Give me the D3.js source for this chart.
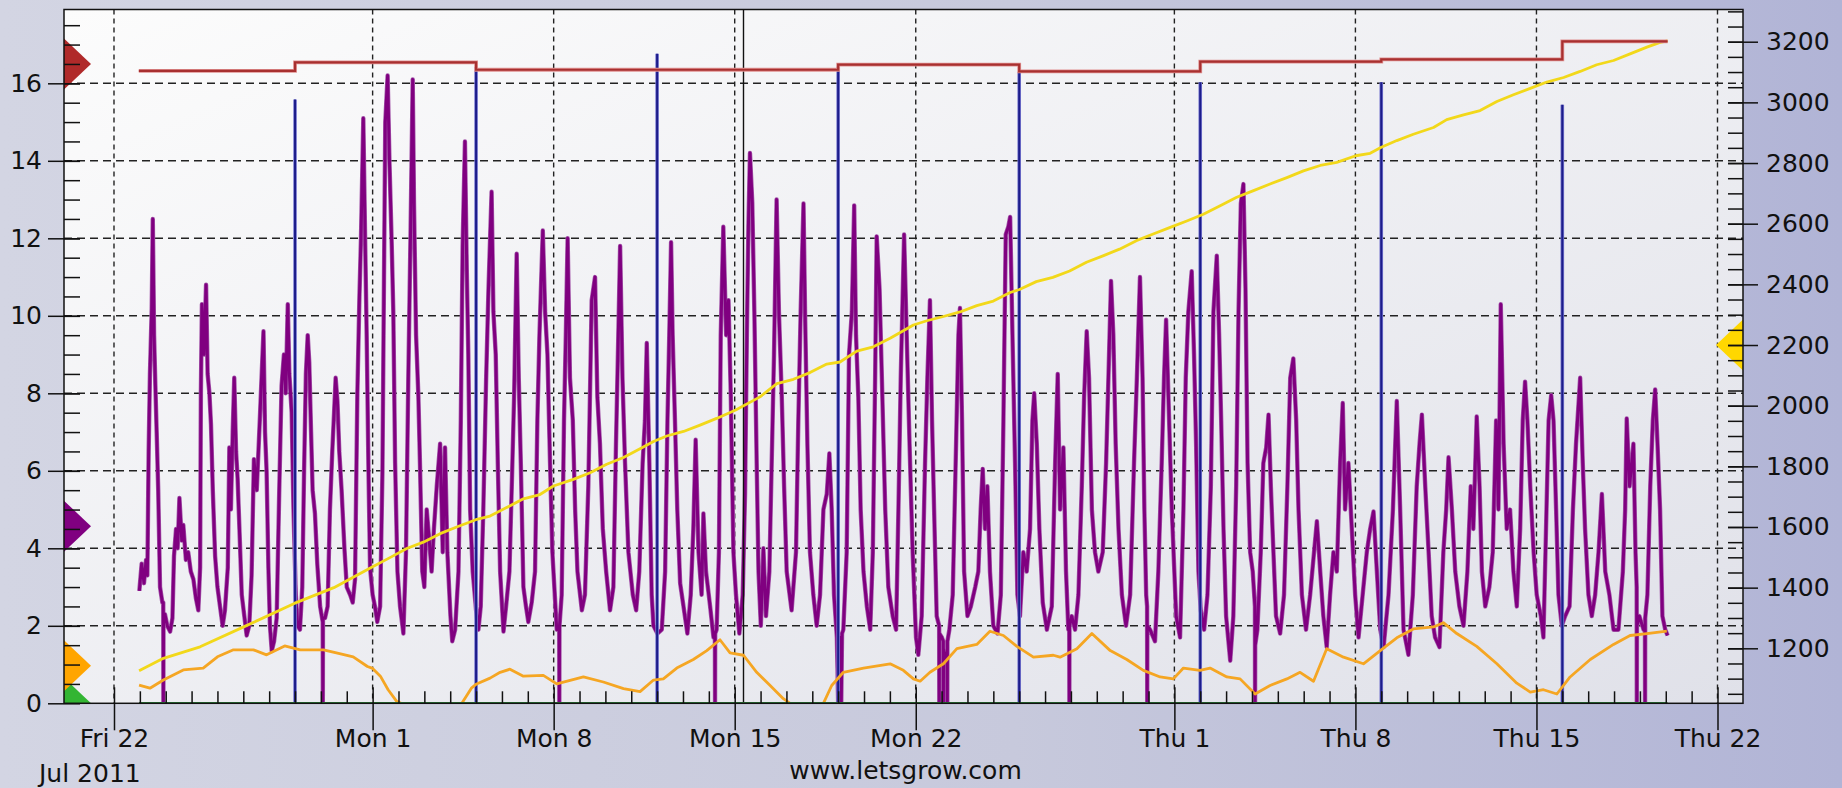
<!DOCTYPE html>
<html>
<head>
<meta charset="utf-8">
<script src="https://cdn.jsdelivr.net/npm/d3@7"></script>
<style>
  html, body { margin: 0; padding: 0; }
  body { width: 1842px; height: 788px; overflow: hidden; }
</style>
</head>
<body>
<script>
// time is kept as days since Fri 22 Jul 2011 00:00
const origin = new Date(2011, 6, 22);
const toDate = (t) => new Date(origin.getTime() + t * 864e5);

// x axis
const xDomainDays = [-1.933, 62.986];
const majorTickDays = [0, 10, 17, 24, 31, 41, 48, 55, 62];
const minorTickDays = d3.range(1, 62);
const cursorDay = 24.34;

// left axis (purple, red, orange, green, blue)
const leftDomain = [0, 17.905];
const leftTicks = [0, 2, 4, 6, 8, 10, 12, 14, 16];
const leftMinorTicks = d3.range(0.5, 18, 0.5);
const gridValues = [2, 4, 6, 8, 10, 12, 14, 16];

// right axis (yellow)
const rightDomain = [1018.7, 3306.2];
const rightTicks = [1200, 1400, 1600, 1800, 2000, 2200, 2400, 2600, 2800, 3000, 3200];
const rightMinorTicks = d3.range(1050, 3301, 50);

// purple series [day, value]
const purple = [
  [0.98,2.9],[1.07,3.6],[1.16,3.1],[1.24,3.7],[1.29,3.3],[1.34,6.5],[1.39,8.5],[1.46,10.2],[1.50,12.5],[1.55,9.5],
  [1.60,8.2],[1.65,7.0],[1.71,5.5],[1.78,3.0],[1.87,2.6],[1.905,2.6],[1.91,0],[1.915,2.3],[1.97,2.3],[2.06,2.0],
  [2.17,1.85],[2.26,2.2],[2.32,3.8],[2.40,4.5],[2.46,4.0],[2.53,5.3],[2.62,4.2],[2.68,4.6],[2.78,3.7],[2.87,3.9],
  [2.97,3.4],[3.07,3.2],[3.17,2.7],[3.26,2.4],[3.33,3.5],[3.36,8.0],[3.40,10.3],[3.48,9.0],[3.56,10.8],[3.62,8.5],
  [3.69,8.0],[3.75,7.2],[3.82,5.5],[3.91,3.8],[4.00,3.0],[4.10,2.5],[4.20,2.0],[4.29,2.4],[4.40,3.5],[4.46,6.6],
  [4.52,5.0],[4.59,7.0],[4.65,8.4],[4.72,6.5],[4.78,5.8],[4.85,4.5],[4.94,2.8],[5.03,2.3],[5.13,1.75],[5.23,2.0],
  [5.32,3.3],[5.41,6.3],[5.52,5.5],[5.65,7.5],[5.78,9.6],[5.84,7.0],[5.90,6.0],[5.97,3.5],[6.03,2.0],[6.10,1.35],
  [6.19,1.6],[6.29,2.2],[6.39,5.5],[6.48,8.2],[6.57,9.0],[6.64,8.0],[6.72,10.3],[6.78,8.5],[6.87,7.5],[6.94,5.0],
  [7.03,2.8],[7.10,2.0],[7.19,1.9],[7.28,3.0],[7.35,6.0],[7.42,8.5],[7.49,9.5],[7.55,8.8],[7.62,7.0],[7.68,5.5],
  [7.77,4.9],[7.86,3.6],[7.97,2.5],[8.07,2.1],[8.075,0],[8.08,2.2],[8.16,2.2],[8.26,2.5],[8.35,5.0],[8.44,6.5],
  [8.51,7.5],[8.57,8.4],[8.64,7.8],[8.71,6.5],[8.80,5.5],[8.91,4.0],[9.00,3.0],[9.13,2.8],[9.23,2.6],[9.32,3.2],
  [9.41,8.0],[9.49,10.5],[9.55,12.0],[9.64,15.1],[9.71,12.0],[9.77,9.5],[9.84,6.0],[9.90,3.5],[10.00,2.8],[10.09,2.5],
  [10.18,2.1],[10.29,2.5],[10.38,6.0],[10.44,11.0],[10.49,15.0],[10.58,16.2],[10.65,14.0],[10.74,11.8],[10.80,10.1],[10.87,6.2],
  [10.96,3.4],[11.06,2.5],[11.19,1.8],[11.29,3.9],[11.38,8.4],[11.47,12.3],[11.55,16.1],[11.60,12.9],[11.68,9.5],[11.77,7.9],
  [11.83,6.2],[11.92,3.4],[12.0,3.0],[12.09,5.0],[12.19,4.2],[12.28,3.4],[12.37,4.5],[12.48,5.6],[12.61,6.7],[12.71,3.9],
  [12.80,6.6],[12.89,3.9],[13.01,2.25],[13.08,1.6],[13.19,1.9],[13.32,3.4],[13.41,7.3],[13.48,11.8],[13.57,14.5],[13.64,11.2],
  [13.70,9.0],[13.77,5.0],[13.87,3.4],[14.0,2.4],[14.09,1.9],[14.18,2.5],[14.28,5.0],[14.39,8.4],[14.48,10.7],[14.60,13.2],
  [14.67,10.1],[14.76,9.0],[14.84,6.2],[14.93,3.4],[15.06,1.85],[15.16,2.5],[15.29,3.4],[15.38,5.6],[15.47,7.9],[15.57,11.6],
  [15.65,8.4],[15.73,6.2],[15.83,3.0],[15.93,2.5],[16.02,2.1],[16.15,2.6],[16.28,3.4],[16.37,7.3],[16.45,9.5],[16.58,12.2],
  [16.67,10.1],[16.76,9.0],[16.86,6.2],[16.95,3.9],[17.12,1.9],[17.215,2.0],[17.22,0],[17.225,2.0],[17.31,2.8],[17.40,7.3],
  [17.47,9.5],[17.54,12.0],[17.63,8.4],[17.74,7.3],[17.83,5.0],[17.92,3.4],[18.09,2.4],[18.21,2.8],[18.34,5.6],[18.47,10.4],
  [18.60,11.0],[18.69,7.9],[18.79,6.7],[18.90,4.5],[19.03,3.4],[19.18,2.4],[19.31,3.0],[19.41,6.7],[19.50,9.5],[19.57,11.8],
  [19.66,8.4],[19.76,6.2],[19.89,3.9],[20.06,2.8],[20.19,2.4],[20.31,3.4],[20.44,6.2],[20.53,7.3],[20.60,9.3],[20.70,6.2],
  [20.79,2.8],[20.86,2.0],[21.01,1.8],[21.18,1.9],[21.31,3.4],[21.40,7.3],[21.47,9.5],[21.54,11.9],[21.60,9.5],[21.69,7.3],
  [21.78,5.0],[21.89,3.1],[22.02,2.5],[22.17,1.8],[22.30,2.8],[22.40,4.5],[22.49,6.8],[22.60,3.9],[22.72,2.8],[22.79,4.9],
  [22.89,3.4],[23.05,2.5],[23.18,1.7],[23.235,1.7],[23.24,0],[23.245,1.8],[23.30,1.9],[23.39,3.9],[23.46,9.5],[23.56,12.3],
  [23.67,9.5],[23.76,10.4],[23.85,7.9],[23.95,3.9],[24.05,2.8],[24.18,1.8],[24.31,2.8],[24.40,5.4],[24.47,9.5],[24.53,12.3],
  [24.59,14.2],[24.68,12.9],[24.76,10.1],[24.85,6.2],[24.92,3.4],[25.01,2.0],[25.11,4.0],[25.21,2.25],[25.34,3.4],[25.43,6.2],
  [25.52,9.0],[25.62,13.0],[25.71,10.1],[25.82,7.9],[25.91,5.6],[26.01,3.4],[26.20,2.4],[26.37,3.9],[26.46,7.3],[26.55,10.1],
  [26.66,12.9],[26.72,10.1],[26.81,6.7],[26.91,3.9],[27.04,2.8],[27.17,2.0],[27.30,2.8],[27.43,5.0],[27.56,5.4],[27.66,6.45],
  [27.75,5.0],[27.84,2.8],[27.95,1.7],[28.0,0],[28.03,1.6],[28.06,0],[28.09,1.7],[28.12,0],[28.15,1.8],[28.20,1.9],
  [28.33,3.9],[28.42,9.0],[28.53,10.1],[28.62,12.85],[28.69,9.5],[28.78,7.9],[28.87,5.0],[28.98,3.4],[29.11,2.5],[29.24,1.9],
  [29.34,3.9],[29.43,8.4],[29.49,12.05],[29.60,10.7],[29.69,8.4],[29.82,5.0],[29.94,3.0],[30.11,2.25],[30.24,1.9],[30.33,5.0],
  [30.42,8.4],[30.55,12.1],[30.65,9.5],[30.76,6.7],[30.88,3.9],[31.01,1.7],[31.10,1.25],[31.23,2.25],[31.36,6.2],[31.45,8.4],
  [31.55,10.4],[31.63,7.3],[31.71,5.0],[31.81,2.25],[31.905,2.0],[31.91,0],[31.915,1.8],[32.01,1.7],[32.065,1.6],[32.07,0],
  [32.075,1.4],[32.17,1.1],[32.215,1.3],[32.22,0],[32.225,1.6],[32.30,1.9],[32.43,2.8],[32.56,6.7],[32.65,9.5],[32.71,10.2],
  [32.79,7.3],[32.87,3.4],[33.0,2.25],[33.13,2.5],[33.30,3.0],[33.42,3.4],[33.51,5.0],[33.59,6.05],[33.68,4.5],[33.77,5.6],
  [33.87,3.4],[34.0,2.0],[34.16,1.8],[34.29,2.8],[34.39,7.3],[34.48,12.1],[34.58,12.3],[34.65,12.55],[34.74,9.5],[34.84,6.2],
  [34.93,2.8],[35.03,2.25],[35.16,3.9],[35.29,3.4],[35.42,4.5],[35.51,7.3],[35.58,8.0],[35.68,6.7],[35.78,4.5],[35.91,2.6],
  [36.07,1.9],[36.26,2.5],[36.39,6.2],[36.49,8.5],[36.58,5.0],[36.71,6.6],[36.81,3.4],[36.90,1.9],[36.935,1.9],[36.94,0],
  [36.945,2.0],[37.03,2.25],[37.16,1.9],[37.29,2.8],[37.42,5.6],[37.51,7.9],[37.61,9.6],[37.70,8.4],[37.81,5.0],[37.93,3.9],
  [38.06,3.4],[38.23,3.9],[38.36,6.2],[38.45,8.4],[38.55,10.9],[38.64,9.5],[38.73,6.7],[38.84,4.5],[38.97,2.8],[39.13,2.0],
  [39.29,2.8],[39.44,6.2],[39.55,8.4],[39.67,11.0],[39.77,8.4],[39.84,5.0],[39.91,2.8],[39.945,2.5],[39.95,0],[39.955,2.0],
  [40.06,1.9],[40.25,1.6],[40.38,3.4],[40.51,6.2],[40.60,8.4],[40.68,9.9],[40.77,7.9],[40.90,5.0],[41.07,2.25],[41.22,1.7],
  [41.35,5.0],[41.44,8.4],[41.54,10.1],[41.67,11.15],[41.76,9.0],[41.84,6.7],[41.93,3.4],[42.02,2.4],[42.15,1.9],[42.28,2.8],
  [42.41,5.6],[42.51,10.1],[42.64,11.55],[42.73,9.5],[42.81,7.3],[42.90,4.5],[43.0,2.25],[43.16,1.1],[43.28,2.25],[43.39,5.6],
  [43.48,10.1],[43.57,12.9],[43.67,13.4],[43.75,10.7],[43.83,6.2],[43.93,3.9],[44.03,3.4],[44.115,2.5],[44.12,0],[44.125,1.5],
  [44.21,1.9],[44.34,3.9],[44.44,6.2],[44.55,6.6],[44.64,7.45],[44.73,5.6],[44.83,3.9],[44.93,2.25],[45.09,1.8],[45.24,2.8],
  [45.37,5.6],[45.48,8.4],[45.60,8.9],[45.71,7.3],[45.80,5.0],[45.93,2.8],[46.09,1.9],[46.25,2.8],[46.40,3.9],[46.51,4.7],
  [46.64,3.4],[46.76,2.25],[46.89,1.45],[47.02,2.8],[47.15,3.9],[47.28,3.4],[47.41,6.2],[47.51,7.75],[47.60,5.0],[47.73,6.2],
  [47.86,4.5],[47.99,2.8],[48.12,1.7],[48.28,2.8],[48.44,3.9],[48.57,4.5],[48.70,4.95],[48.83,3.4],[48.96,1.9],[49.09,1.45],
  [49.28,2.8],[49.45,5.0],[49.60,7.8],[49.73,5.0],[49.86,1.9],[50.05,1.25],[50.22,2.8],[50.37,5.6],[50.48,6.7],[50.57,7.45],
  [50.70,5.6],[50.83,3.9],[50.95,2.25],[51.08,1.7],[51.25,1.45],[51.40,3.9],[51.51,5.0],[51.60,6.35],[51.73,5.0],[51.86,3.4],
  [52.02,2.5],[52.18,2.0],[52.33,3.4],[52.46,5.6],[52.56,4.5],[52.69,7.4],[52.80,5.6],[52.89,3.4],[53.02,2.5],[53.18,3.0],
  [53.31,3.9],[53.44,7.3],[53.53,5.0],[53.62,10.3],[53.73,6.7],[53.85,4.5],[53.98,5.0],[54.11,3.4],[54.24,2.5],[54.37,4.5],
  [54.47,7.3],[54.56,8.3],[54.65,7.3],[54.76,5.6],[54.89,3.9],[55.01,2.8],[55.17,2.25],[55.27,1.7],[55.37,4.5],[55.47,7.3],
  [55.57,7.95],[55.66,7.3],[55.76,5.0],[55.85,2.8],[55.98,2.0],[56.11,2.25],[56.28,2.5],[56.41,5.0],[56.53,6.7],[56.69,8.4],
  [56.79,6.2],[56.88,4.5],[57.01,2.8],[57.14,2.25],[57.27,2.8],[57.40,3.9],[57.53,5.4],[57.66,3.4],[57.82,2.8],[57.98,1.9],
  [58.17,1.9],[58.34,3.4],[58.43,5.0],[58.49,7.35],[58.60,5.6],[58.75,6.7],[58.83,3.9],[58.875,3.0],[58.88,0],[58.885,2.0],
  [58.98,2.25],[59.14,1.9],[59.195,2.0],[59.20,0],[59.205,2.2],[59.29,2.8],[59.40,5.6],[59.50,7.3],[59.59,8.1],[59.68,6.7],
  [59.78,5.0],[59.87,2.25],[59.98,1.9],[60.07,1.75]
];

// orange series [day, value]
const orange = [
  [0.97,0.47],[1.39,0.39],[1.91,0.6],[2.68,0.86],[3.45,0.91],[4.0,1.2],[4.62,1.38],[5.39,1.38],[5.9,1.25],[6.6,1.48],
  [7.2,1.38],[8.1,1.38],[8.6,1.3],[9.25,1.2],[9.8,0.95],[10.0,0.9],[10.3,0.7],[10.6,0.35],[10.93,0.05],[11.1,0],
  [13.45,0],[13.83,0.4],[14.02,0.5],[14.54,0.65],[14.93,0.8],[15.31,0.88],[15.83,0.7],[16.6,0.72],[17.12,0.5],[18.15,0.68],
  [18.92,0.55],[19.7,0.38],[20.34,0.3],[20.86,0.6],[21.24,0.63],[21.76,0.91],[22.4,1.13],[22.92,1.36],[23.43,1.64],[23.82,1.3],
  [24.34,1.24],[24.85,0.8],[25.37,0.46],[25.88,0.12],[26.14,0],[27.43,0],[27.75,0.46],[28.2,0.8],[28.98,0.91],[30.01,1.02],
  [30.52,0.85],[30.91,0.63],[31.17,0.57],[31.55,0.8],[32.07,1.02],[32.59,1.41],[33.36,1.52],[33.87,1.86],[34.39,1.75],[34.91,1.47],
  [35.55,1.19],[36.32,1.24],[36.58,1.19],[37.23,1.41],[37.81,1.8],[38.52,1.36],[39.16,1.13],[39.8,0.85],[40.45,0.68],[40.96,0.63],
  [41.35,0.91],[41.99,0.85],[42.38,0.91],[43.03,0.68],[43.54,0.63],[44.12,0.24],[44.7,0.46],[45.35,0.63],[45.86,0.8],[46.38,0.57],
  [46.89,1.41],[47.54,1.19],[48.31,1.02],[48.96,1.36],[49.6,1.69],[50.24,1.92],[51.02,1.97],[51.4,2.08],[51.92,1.8],[52.69,1.47],
  [53.47,1.02],[54.24,0.52],[54.76,0.29],[55.27,0.35],[55.79,0.24],[56.3,0.68],[57.08,1.13],[57.98,1.52],[58.62,1.75],[59.27,1.8],
  [60.04,1.86]
];

// yellow series [day, value on right axis]
const yellow = [
  [0.97,1126],[1.91,1167],[3.33,1205],[5.1,1274],[6.97,1348],[8.5,1400],[10.0,1469],[10.67,1499],[11.32,1529],[11.96,1550],
  [12.61,1578],[13.25,1600],[13.99,1624],[14.54,1636],[15.18,1664],[15.83,1693],[16.47,1707],[16.99,1735],[17.76,1757],[18.41,1779],
  [19.05,1807],[19.70,1829],[20.34,1858],[20.86,1882],[21.37,1900],[22.02,1915],[22.66,1936],[23.30,1958],[24.04,1986],[24.98,2029],
  [25.63,2073],[26.27,2087],[26.91,2109],[27.56,2137],[28.07,2144],[28.72,2180],[29.36,2194],[30.01,2222],[30.91,2266],[31.43,2280],
  [32.07,2294],[32.71,2309],[33.36,2330],[34.00,2345],[34.65,2373],[35.01,2383],[35.66,2409],[36.30,2423],[36.95,2444],[37.60,2473],
  [38.24,2494],[38.88,2516],[39.53,2544],[40.18,2566],[40.84,2588],[41.48,2609],[42.12,2631],[42.77,2659],[43.41,2687],[44.06,2709],
  [44.70,2731],[45.35,2752],[45.99,2774],[46.64,2792],[47.28,2802],[48.01,2824],[48.57,2832],[49.0,2852],[49.60,2874],[50.24,2895],
  [51.02,2917],[51.53,2943],[52.18,2959],[52.82,2973],[53.47,3003],[54.11,3025],[54.76,3046],[55.40,3067],[56.05,3082],[56.69,3102],
  [57.33,3124],[57.98,3138],[58.62,3160],[59.27,3182],[59.78,3198],[60.07,3203]
];

// red step series [day, value]
const red = [
  [0.96,16.32],[7.0,16.54],[14.0,16.35],[28.0,16.48],[35.0,16.31],[42.0,16.56],[49.0,16.62],[56.0,17.08],[60.07,17.08]
];

// blue weekly spikes [day, value]
const blue = [
  [7.0,15.58],[14.0,16.42],[21.0,16.76],[28.0,16.43],[35.0,16.3],[42.0,16.03],[49.0,16.03],[56.0,15.45]
];

// green series [day, value]
const green = [[0.97,0],[60.07,0]];

// side markers
const leftMarkers = [
  { color: '#b02a2a', value: 16.5 },
  { color: '#800080', value: 4.57 },
  { color: '#33b533', value: 0 },
  { color: '#ffa500', value: 0.97 }
];
const rightMarkers = [{ color: '#ffd700', value: 2200 }];

const W = 1842, H = 788;
const margin = { top: 9.5, right: 99, bottom: 84.7, left: 64 };
const plotW = W - margin.left - margin.right;
const plotH = H - margin.top - margin.bottom;
const plotBottom = margin.top + plotH;
const font = '"DejaVu Sans", Verdana, sans-serif';

const x = d3.scaleTime()
  .domain(xDomainDays.map(toDate))
  .range([margin.left, margin.left + plotW]);

const yLeft = d3.scaleLinear().domain(leftDomain).range([plotBottom, margin.top]);
const yRight = d3.scaleLinear().domain(rightDomain).range([plotBottom, margin.top]);

const svg = d3.select('body').append('svg')
  .attr('width', W)
  .attr('height', H);

const defs = svg.append('defs');

const bgGrad = defs.append('linearGradient').attr('id', 'bg')
  .attr('x1', 0).attr('y1', 0).attr('x2', 1).attr('y2', 0);
bgGrad.append('stop').attr('offset', 0).attr('stop-color', '#d3d5e3');
bgGrad.append('stop').attr('offset', 0.55).attr('stop-color', '#c7c9dc');
bgGrad.append('stop').attr('offset', 1).attr('stop-color', '#b1b4d6');

const plotGrad = defs.append('linearGradient').attr('id', 'plotbg')
  .attr('x1', 0).attr('y1', 0).attr('x2', 1).attr('y2', 1);
plotGrad.append('stop').attr('offset', 0).attr('stop-color', '#fcfcfc');
plotGrad.append('stop').attr('offset', 1).attr('stop-color', '#e0e1e9');

defs.append('clipPath').attr('id', 'plotclip')
  .append('rect')
  .attr('x', margin.left).attr('y', margin.top)
  .attr('width', plotW).attr('height', plotH);

svg.append('rect')
  .attr('width', W).attr('height', H)
  .attr('fill', 'url(#bg)');

svg.append('rect')
  .attr('x', margin.left).attr('y', margin.top)
  .attr('width', plotW).attr('height', plotH)
  .attr('fill', 'url(#plotbg)');

// grid
const grid = svg.append('g').attr('class', 'grid');

grid.selectAll('.hgrid')
  .data(gridValues)
  .join('line')
  .attr('class', 'hgrid')
  .attr('x1', margin.left).attr('x2', margin.left + plotW)
  .attr('y1', d => yLeft(d)).attr('y2', d => yLeft(d))
  .attr('stroke', '#222')
  .attr('stroke-width', 1.4)
  .attr('stroke-dasharray', '8,5');

grid.selectAll('.vgrid')
  .data(majorTickDays)
  .join('line')
  .attr('class', 'vgrid')
  .attr('x1', d => x(toDate(d))).attr('x2', d => x(toDate(d)))
  .attr('y1', margin.top).attr('y2', plotBottom)
  .attr('stroke', '#222')
  .attr('stroke-width', 1.4)
  .attr('stroke-dasharray', '5,4');

// series
const series = svg.append('g').attr('clip-path', 'url(#plotclip)');

const lineLeft = d3.line()
  .x(d => x(toDate(d[0])))
  .y(d => yLeft(d[1]));

const lineRight = d3.line()
  .x(d => x(toDate(d[0])))
  .y(d => yRight(d[1]));

const stepLeft = d3.line()
  .curve(d3.curveStepAfter)
  .x(d => x(toDate(d[0])))
  .y(d => yLeft(d[1]));

series.append('path')
  .datum(purple)
  .attr('d', lineLeft)
  .attr('fill', 'none')
  .attr('stroke', '#a458aa')
  .attr('stroke-width', 4.4)
  .attr('stroke-linejoin', 'round');

series.append('path')
  .datum(purple)
  .attr('d', lineLeft)
  .attr('fill', 'none')
  .attr('stroke', '#800080')
  .attr('stroke-width', 3)
  .attr('stroke-linejoin', 'round');

// cursor line
series.append('line')
  .attr('x1', x(toDate(cursorDay))).attr('x2', x(toDate(cursorDay)))
  .attr('y1', margin.top).attr('y2', plotBottom)
  .attr('stroke', '#111')
  .attr('stroke-width', 1.4);

const spikes = series.selectAll('.spike')
  .data(blue)
  .join('g')
  .attr('class', 'spike');

spikes.append('line')
  .attr('x1', d => x(toDate(d[0]))).attr('x2', d => x(toDate(d[0])))
  .attr('y1', yLeft(0)).attr('y2', d => yLeft(d[1]))
  .attr('stroke', '#7878d0')
  .attr('stroke-width', 3.6);

spikes.append('line')
  .attr('x1', d => x(toDate(d[0]))).attr('x2', d => x(toDate(d[0])))
  .attr('y1', yLeft(0)).attr('y2', d => yLeft(d[1]))
  .attr('stroke', '#1c1c8a')
  .attr('stroke-width', 2);

series.append('path')
  .datum(orange)
  .attr('d', lineLeft)
  .attr('fill', 'none')
  .attr('stroke', '#f5a623')
  .attr('stroke-width', 2.8)
  .attr('stroke-linejoin', 'round');

series.append('path')
  .datum(yellow)
  .attr('d', lineRight)
  .attr('fill', 'none')
  .attr('stroke', '#f2d81a')
  .attr('stroke-width', 2.8)
  .attr('stroke-linejoin', 'round');

series.append('path')
  .datum(red)
  .attr('d', stepLeft)
  .attr('fill', 'none')
  .attr('stroke', '#e09090')
  .attr('stroke-width', 3.8);

series.append('path')
  .datum(red)
  .attr('d', stepLeft)
  .attr('fill', 'none')
  .attr('stroke', '#a83030')
  .attr('stroke-width', 2.2);

series.append('path')
  .datum(green)
  .attr('d', lineLeft)
  .attr('fill', 'none')
  .attr('stroke', '#2f8f3f')
  .attr('stroke-width', 2.5);

// side markers, pointing into the plot
const mh = 25.5, mw = 27;
series.selectAll('.lmark')
  .data(leftMarkers)
  .join('path')
  .attr('class', 'lmark')
  .attr('d', d => {
    const y = yLeft(d.value), x0 = margin.left;
    return `M${x0},${y - mh}L${x0 + mw},${y}L${x0},${y + mh}Z`;
  })
  .attr('fill', d => d.color);

series.selectAll('.rmark')
  .data(rightMarkers)
  .join('path')
  .attr('class', 'rmark')
  .attr('d', d => {
    const y = yRight(d.value), x0 = margin.left + plotW;
    return `M${x0},${y - mh}L${x0 - mw},${y}L${x0},${y + mh}Z`;
  })
  .attr('fill', d => d.color);

// frame
svg.append('rect')
  .attr('x', margin.left).attr('y', margin.top)
  .attr('width', plotW).attr('height', plotH)
  .attr('fill', 'none')
  .attr('stroke', '#111')
  .attr('stroke-width', 1.5);

// axes
const styleAxis = (g) => g
  .attr('font-size', 25)
  .attr('font-family', font)
  .attr('color', '#111')
  .call(g => g.select('.domain').remove())
  .call(g => g.selectAll('line').attr('stroke-width', 1.5))
  .call(g => g.selectAll('text').attr('fill', '#111'));

svg.append('g')
  .attr('transform', `translate(${margin.left + 16},0)`)
  .call(d3.axisLeft(yLeft).tickValues(leftMinorTicks).tickSize(16).tickFormat(''))
  .call(styleAxis);

svg.append('g')
  .attr('transform', `translate(${margin.left + 16},0)`)
  .call(d3.axisLeft(yLeft).tickValues(leftTicks).tickSize(32).tickPadding(6).tickFormat(d3.format('d')))
  .call(styleAxis);

svg.append('g')
  .attr('transform', `translate(${margin.left + plotW - 15},0)`)
  .call(d3.axisRight(yRight).tickValues(rightMinorTicks).tickSize(15).tickFormat(''))
  .call(styleAxis);

svg.append('g')
  .attr('transform', `translate(${margin.left + plotW - 15},0)`)
  .call(d3.axisRight(yRight).tickValues(rightTicks).tickSize(30).tickPadding(8).tickFormat(d3.format('d')))
  .call(styleAxis);

// daily ticks up from the bottom edge
svg.append('g')
  .attr('transform', `translate(0,${plotBottom})`)
  .call(d3.axisBottom(x).tickValues(minorTickDays.filter(d => !majorTickDays.includes(d)).map(toDate)).tickSize(-12).tickFormat(''))
  .call(styleAxis);

svg.append('g')
  .attr('transform', `translate(0,${plotBottom})`)
  .call(d3.axisBottom(x).tickValues(majorTickDays.map(toDate)).tickSize(-16).tickFormat(''))
  .call(styleAxis);

svg.append('g')
  .attr('transform', `translate(0,${plotBottom})`)
  .call(d3.axisBottom(x).tickValues(majorTickDays.map(toDate)).tickSize(27).tickPadding(0).tickFormat(d3.timeFormat('%a %-d')))
  .call(styleAxis)
  .call(g => g.selectAll('text').attr('y', 26));

svg.append('text')
  .attr('x', 39).attr('y', 782)
  .attr('font-family', font).attr('font-size', 25)
  .attr('fill', '#111')
  .text(d3.timeFormat('%b %Y')(origin));

svg.append('text')
  .attr('x', margin.left + plotW / 2 + 2).attr('y', 779)
  .attr('text-anchor', 'middle')
  .attr('font-family', font).attr('font-size', 25)
  .attr('fill', '#111')
  .text('www.letsgrow.com');
</script>
</body>
</html>
